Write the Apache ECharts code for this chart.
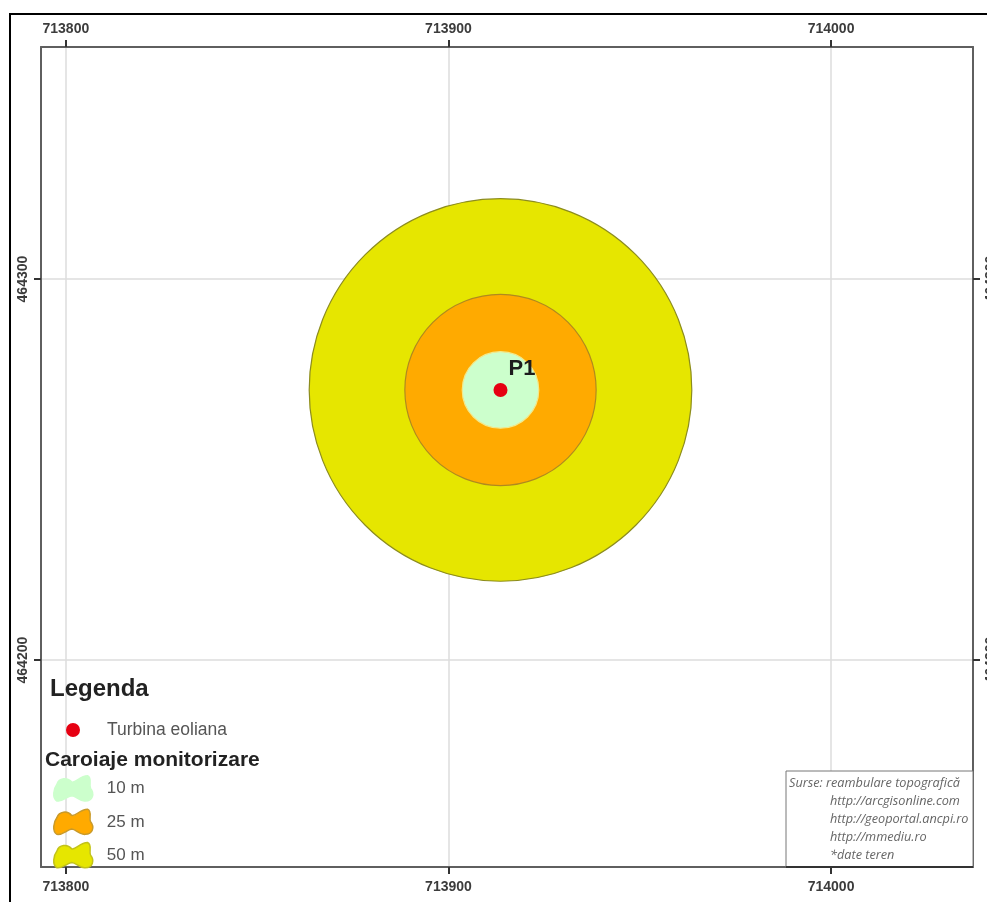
<!DOCTYPE html>
<html>
<head>
<meta charset="utf-8">
<style>html,body{margin:0;padding:0;background:#fff;overflow:hidden}#c{width:987px;height:902px}</style>
<script src="https://cdn.jsdelivr.net/npm/echarts@6/dist/echarts.min.js"></script>
</head>
<body>
<div id="c"></div>
<script>
const xTicks = [713800, 713900, 714000];
const yTicks = [464200, 464300];
const xRange = [713793.5, 714037.1];
const yRange = [464145.7, 464360.9];
const turbineName = 'Turbina eoliana';
const turbinePoint = [713913.6, 464270.9];
const turbineLabel = 'P1';
const zoneNames = ['50 m', '25 m', '10 m'];
const zoneRadii = [50, 25, 10];
const zoneColors = ['#E6E600', '#FFAA00', '#CCFFCC'];
const zoneBorders = ['#8C8C1E', '#B08A1E', '#F2E98C'];
const legendBorders = ['#C2C21A', '#C99A2A', '#CCFFCC'];
const sourceLines = ['Surse: reambulare topografică', 'http://arcgisonline.com', 'http://geoportal.ancpi.ro', 'http://mmediu.ro', '*date teren'];
const legendTitle = 'Legenda';
const zoneTitle = 'Caroiaje monitorizare';

const blob = 'path://M4,9 C6,3 14,2 18,7 C22,8 26,1 33,1 C38,3 34,10 36,13 C40,18 38,25 31,25 C26,26 22,20 18,20 C13,21 9,26 4,25 C-1,22 1,13 4,9 Z';
const font = 'Liberation Sans';

function axis(pos, range, ticks, extra, labelExtra) {
  return Object.assign({
    type: 'value', position: pos, min: range[0], max: range[1], scale: true,
    axisLine: {show: true, onZero: false, lineStyle: {color: '#5f5f5f', width: 2}},
    axisTick: {show: true, customValues: ticks, length: 7, lineStyle: {color: '#333', width: 2}},
    axisLabel: Object.assign({show: true, customValues: ticks, margin: 13, hideOverlap: false, showMinLabel: true, showMaxLabel: true,
      fontFamily: font, fontWeight: 'bold', fontSize: 14, color: '#3c3c3c', formatter: v => String(v)}, labelExtra || {}),
    splitLine: {show: false}
  }, extra || {});
}
const gridLine = {show: true, lineStyle: {color: '#dcdcdc', width: 1.5}};

const zoneSeries = zoneNames.map((name, i) => ({
  name, type: 'custom', coordinateSystem: 'cartesian2d', xAxisIndex: 0, yAxisIndex: 0,
  z: 3 + i, clip: false, silent: true,
  itemStyle: {color: zoneColors[i]},
  encode: {x: 0, y: 1},
  data: [[turbinePoint[0], turbinePoint[1], zoneRadii[i]]],
  renderItem: (p, api) => {
    const c = api.coord([api.value(0), api.value(1)]);
    const s = api.size([api.value(2), api.value(2)]);
    return {type: 'circle', shape: {cx: c[0], cy: c[1], r: s[0]},
      style: {fill: zoneColors[i], stroke: zoneBorders[i], lineWidth: 1.2}};
  }
}));

const option = {
  animation: false,
  backgroundColor: '#fff',
  grid: {left: 41, right: 14, top: 47, bottom: 35, containLabel: false, outerBoundsMode: 'none'},
  xAxis: [
    axis('bottom', xRange, xTicks, {splitLine: gridLine}),
    axis('top', xRange, xTicks, {}, {margin: 11})
  ],
  yAxis: [
    axis('left', yRange, yTicks, {splitLine: gridLine}, {rotate: 90, margin: 11}),
    axis('right', yRange, yTicks, {}, {rotate: 90, margin: 11})
  ],
  legend: [
    {left: 66, top: 721, orient: 'vertical', selectedMode: false, data: [{name: turbineName, icon: 'circle'}],
     itemWidth: 14, itemHeight: 14, itemGap: 0, padding: 0, z: 20,
     textStyle: {fontFamily: font, fontSize: 17.5, color: '#555', padding: [0, 0, 0, 22]}},
    {left: 53, top: 775, orient: 'vertical', selectedMode: false,
     data: zoneNames.slice().reverse().map((name, i) => ({name, icon: blob,
       itemStyle: {borderColor: legendBorders[zoneNames.length - 1 - i], borderWidth: 1.5}})),
     itemWidth: 39, itemHeight: 26, itemGap: 6.5, padding: 0, z: 20,
     textStyle: {fontFamily: font, fontSize: 17, color: '#555', padding: [0, 0, 0, 9]}}
  ],
  series: zoneSeries.concat([{
    name: turbineName, type: 'scatter', xAxisIndex: 0, yAxisIndex: 0, z: 10, silent: true,
    symbol: 'circle', symbolSize: 14,
    itemStyle: {color: '#E60012', opacity: 1},
    label: {show: true, formatter: turbineLabel, position: 'right', offset: [0, -21],
      fontFamily: font, fontWeight: 'bold', fontSize: 22, color: '#1c1c1c', distance: 1},
    data: [turbinePoint]
  }]),
  graphic: [
    {type: 'polyline', z: 30, silent: true, shape: {points: [[10, 902], [10, 14], [987, 14]]}, style: {stroke: '#000', lineWidth: 2, fill: null}},
    {type: 'text', z: 30, left: 50, top: 677, silent: true, style: {text: legendTitle, fontFamily: font, fontWeight: 'bold', fontSize: 24, fill: '#222'}},
    {type: 'text', z: 30, left: 45, top: 750, silent: true, style: {text: zoneTitle, fontFamily: font, fontWeight: 'bold', fontSize: 21, fill: '#222'}},
    {type: 'rect', z: 30, silent: true, shape: {x: 786, y: 771, width: 187, height: 96}, style: {fill: '#fff', stroke: '#777', lineWidth: 1}},
    {type: 'line', z: 30, silent: true, shape: {x1: 786, y1: 867, x2: 973, y2: 867}, style: {stroke: '#333', lineWidth: 2}}
  ].concat(sourceLines.map((t, i) => ({
    type: 'text', z: 31, silent: true, x: i === 0 ? 789 : 830, y: 783 + i * 18.2,
    style: {text: t, fontFamily: 'Open Sans', fontStyle: 'italic', fontSize: 12.7, fill: '#666', verticalAlign: 'middle'}
  })))
};
echarts.init(document.getElementById('c')).setOption(option);
</script>
</body>
</html>
